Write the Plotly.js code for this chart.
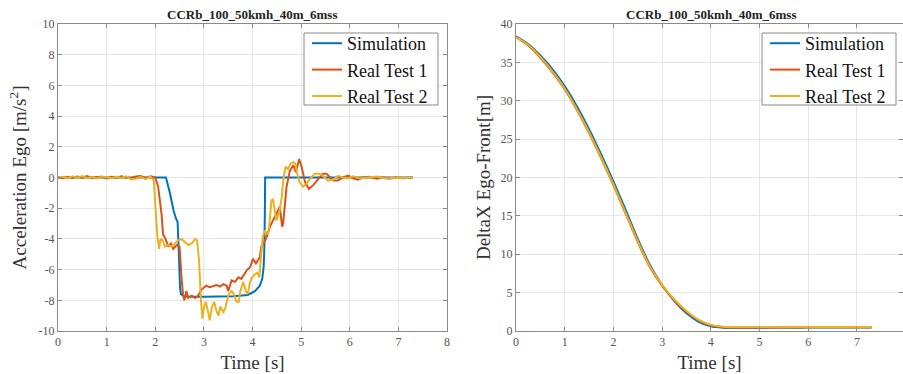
<!DOCTYPE html>
<html>
<head>
<meta charset="utf-8">
<script src="https://cdn.plot.ly/plotly-3.0.1.min.js"></script>
<style>html,body{margin:0;padding:0;background:#fff;}#chart{width:903px;height:374px;}</style>
</head>
<body>
<div id="chart"></div>
<script>
// ---------- data ----------
const chartTitle = "CCRb_100_50kmh_40m_6mss";
const seriesNames = ["Simulation", "Real Test 1", "Real Test 2"];

// Left: acceleration of ego vehicle [m/s^2]
const simAccT = [0, 2.22, 2.3, 2.38, 2.43, 2.46, 2.48, 2.51, 2.53, 2.6, 3.0, 3.6, 3.9, 4.05, 4.15, 4.2, 4.23, 4.245, 4.255, 4.26, 5.0, 7.3];
const simAccV = [0, 0, -1.0, -2.2, -2.7, -2.9, -4.5, -7.2, -7.6, -7.75, -7.77, -7.74, -7.65, -7.4, -7.05, -6.6, -5.8, -4.5, -2.0, 0, 0, 0];

const test1AccT = [0, 0.1, 0.2, 0.3, 0.4, 0.5, 0.6, 0.7, 0.8, 0.9, 1.0, 1.1, 1.2, 1.3, 1.4, 1.5, 1.6, 1.7, 1.8, 1.9,
  2.0, 2.06, 2.13, 2.16, 2.21, 2.27, 2.32, 2.37, 2.44, 2.5, 2.54, 2.57, 2.6, 2.64, 2.68, 2.75, 2.82, 2.88, 2.95, 3.05,
  3.12, 3.19, 3.26, 3.33, 3.4, 3.47, 3.5, 3.57, 3.64, 3.71, 3.77, 3.83, 3.88, 3.95, 4.01, 4.07, 4.12, 4.15, 4.18, 4.22,
  4.29, 4.36, 4.42, 4.49, 4.56, 4.61, 4.63, 4.7, 4.77, 4.84, 4.89, 4.96, 5.01, 5.08, 5.16, 5.25, 5.35, 5.45, 5.52, 5.59,
  5.66, 5.76, 5.86, 5.97, 6.07, 6.17, 6.27, 6.41, 6.55, 6.68, 6.82, 6.96, 7.1, 7.3];
const test1AccV = [0.02, -0.05, 0.05, -0.03, 0.06, -0.02, 0.1, -0.04, 0.03, 0.05, -0.06, 0.04, -0.02, 0.08, 0.0, -0.05, 0.06, 0.1, -0.03, 0.08,
  0.0, -0.6, -2.4, -3.7, -4.0, -4.5, -4.3, -4.65, -4.4, -4.5, -6.5, -7.6, -8.0, -7.4, -7.85, -7.7, -7.85, -7.7, -7.3, -7.05,
  -7.15, -7.05, -7.0, -7.1, -6.95, -7.05, -7.4, -6.7, -6.8, -6.5, -6.6, -6.3, -6.05, -5.85, -5.3, -5.6, -5.3, -5.2, -4.5, -4.35,
  -3.9, -3.2, -2.8, -2.4, -1.9, -3.2, -3.0, -0.6, 0.45, 0.8, 0.35, 1.2, 0.7, -0.3, -0.75, -0.5, -0.1, 0.25, 0.25, 0.0,
  -0.2, -0.2, 0.0, 0.12, -0.05, -0.15, 0.0, 0.05, -0.08, 0.02, -0.08, 0.02, -0.05, 0.0];

const test2AccT = [0, 0.1, 0.2, 0.3, 0.4, 0.5, 0.6, 0.7, 0.8, 0.9, 1.0, 1.1, 1.2, 1.3, 1.4, 1.5, 1.6, 1.7, 1.8, 1.9,
  1.97, 2.01, 2.04, 2.08, 2.11, 2.15, 2.2, 2.27, 2.34, 2.4, 2.47, 2.54, 2.61, 2.68, 2.75, 2.82, 2.86, 2.9, 2.94, 2.97,
  3.0, 3.04, 3.09, 3.12, 3.16, 3.21, 3.26, 3.3, 3.34, 3.4, 3.45, 3.51, 3.57, 3.62, 3.67, 3.72, 3.75, 3.81, 3.86, 3.9,
  3.95, 3.99, 4.05, 4.1, 4.14, 4.16, 4.21, 4.25, 4.31, 4.34, 4.39, 4.42, 4.46, 4.49, 4.55, 4.6, 4.64, 4.68, 4.73, 4.78,
  4.84, 4.88, 4.92, 4.97, 5.04, 5.11, 5.18, 5.28, 5.38, 5.47, 5.55, 5.66, 5.76, 5.86, 5.97, 6.07, 6.21, 6.34, 6.55, 6.75,
  6.96, 7.17, 7.3];
const test2AccV = [0.0, 0.05, -0.04, 0.08, -0.02, 0.1, -0.05, 0.03, -0.06, 0.07, 0.02, -0.04, 0.05, -0.03, 0.08, -0.12, -0.08, 0.04, -0.1, 0.06,
  -0.2, -1.9, -3.7, -4.65, -4.0, -4.1, -4.5, -4.4, -4.5, -4.3, -4.1, -4.0, -4.2, -4.4, -4.3, -4.0, -4.1, -5.4, -8.0, -9.2,
  -8.5, -8.1, -8.8, -9.3, -8.5, -8.1, -8.7, -9.0, -8.4, -8.8, -8.4, -7.6, -7.4, -7.6, -8.1, -8.1, -7.4, -6.8, -7.4, -7.6,
  -6.8, -6.5, -6.3, -6.2, -6.5, -5.6, -3.9, -3.45, -3.7, -3.3, -1.5, -1.4, -2.4, -2.8, -2.3, -1.3, 0.0, 0.7, 0.55, 0.9,
  1.0, 0.9, 0.25, -0.3, -0.6, -0.4, -0.1, 0.25, 0.25, 0.05, -0.2, -0.15, 0.1, 0.0, -0.05, 0.08, -0.06, 0.0, 0.06, -0.06,
  0.0, -0.04, 0.0];

// Right: distance ego to front vehicle [m]
const distT = [0, 0.25, 0.5, 0.75, 1.0, 1.25, 1.5, 1.75, 2.0, 2.25, 2.5, 2.75, 3.0, 3.25, 3.5, 3.75, 4.0, 4.25, 4.5, 5.0, 5.5, 6.0, 6.5, 7.0, 7.3];
const simDist   = [38.4, 37.4, 35.9, 34.1, 31.9, 29.3, 26.3, 23.0, 19.5, 15.8, 12.0, 8.6, 6.0, 3.9, 2.3, 1.2, 0.6, 0.42, 0.38, 0.4, 0.42, 0.44, 0.45, 0.46, 0.46];
const test1Dist = [38.3, 37.2, 35.6, 33.7, 31.5, 28.8, 25.8, 22.5, 19.0, 15.3, 11.6, 8.3, 5.9, 4.0, 2.5, 1.4, 0.75, 0.52, 0.45, 0.46, 0.48, 0.5, 0.5, 0.5, 0.5];
const test2Dist = [38.3, 37.3, 35.7, 33.8, 31.6, 28.9, 25.9, 22.6, 19.1, 15.4, 11.7, 8.4, 6.0, 4.1, 2.6, 1.45, 0.8, 0.55, 0.48, 0.48, 0.5, 0.52, 0.52, 0.52, 0.52];

const xTickVals = [0, 1, 2, 3, 4, 5, 6, 7, 8];
const xTickText = ["0", "1", "2", "3", "4", "5", "6", "7", "8"];
const accTickVals = [-10, -8, -6, -4, -2, 0, 2, 4, 6, 8, 10];
const accTickText = ["-10", "-8", "-6", "-4", "-2", "0", "2", "4", "6", "8", "10"];
const distTickVals = [0, 5, 10, 15, 20, 25, 30, 35, 40];
const distTickText = ["0", "5", "10", "15", "20", "25", "30", "35", "40"];

// ---------- style ----------
const colors = ["#0072BD", "#D95319", "#EDB120"];
const FONT = "Liberation Serif, Times New Roman, serif";
const W = 903, H = 374;

function line(x, y, i, xa, ya, leg, shape) {
  return {x: x, y: y, type: "scatter", mode: "lines", name: seriesNames[i],
    xaxis: xa, yaxis: ya, legend: leg, showlegend: true,
    line: {color: colors[i], width: 2, shape: shape || "linear", smoothing: 0.6}, hoverinfo: "skip"};
}

const traces = [
  line(simAccT, simAccV, 0, "x", "y", "legend"),
  line(test1AccT, test1AccV, 1, "x", "y", "legend"),
  line(test2AccT, test2AccV, 2, "x", "y", "legend"),
  line(distT, simDist, 0, "x2", "y2", "legend2", "spline"),
  line(distT, test1Dist, 1, "x2", "y2", "legend2", "spline"),
  line(distT, test2Dist, 2, "x2", "y2", "legend2", "spline")
];

function axisBase() {
  return {showline: true, mirror: "ticks", linecolor: "#8a8a8a", linewidth: 1,
    ticks: "inside", ticklen: 4, tickcolor: "#8a8a8a", tickwidth: 1,
    showgrid: true, gridcolor: "#e6e6e6", gridwidth: 1, zeroline: false,
    tickfont: {family: FONT, size: 12, color: "#555"}, automargin: false, fixedrange: true};
}

const yDom = [43 / H, 350 / H];
const xaxis = Object.assign(axisBase(), {domain: [58 / W, 447 / W], range: [0, 8], anchor: "y",
  tickmode: "array", tickvals: xTickVals, ticktext: xTickText,
  title: {text: "Time [s]", font: {family: FONT, size: 19, color: "#333"}, standoff: 7}});
const yaxis = Object.assign(axisBase(), {domain: yDom, range: [-10, 10], anchor: "x",
  tickmode: "array", tickvals: accTickVals, ticktext: accTickText,
  title: {text: "Acceleration Ego [m/s<sup>2</sup>]", font: {family: FONT, size: 19, color: "#333"}, standoff: 6}});
const xaxis2 = Object.assign(axisBase(), {domain: [516 / W, 1], range: [0, 7.945], anchor: "y2",
  tickmode: "array", tickvals: xTickVals, ticktext: xTickText,
  title: {text: "Time [s]", font: {family: FONT, size: 19, color: "#333"}, standoff: 7}});
const yaxis2 = Object.assign(axisBase(), {domain: yDom, range: [0, 40], anchor: "x2",
  tickmode: "array", tickvals: distTickVals, ticktext: distTickText,
  title: {text: "DeltaX Ego-Front[m]", font: {family: FONT, size: 19, color: "#333"}, standoff: 4}});

// legend entries positioned freely; the box is drawn as a shape
function legendAt(xl) {
  return {x: xl / W, xanchor: "left", y: (H - 25) / H, yanchor: "top",
    bgcolor: "rgba(0,0,0,0)", borderwidth: 0,
    font: {family: FONT, size: 18, color: "#111"}, tracegroupgap: 0, itemwidth: 30};
}
function legendFrame(x0, x1) {
  return {type: "rect", xref: "paper", yref: "paper", x0: x0 / W, x1: x1 / W,
    y0: (H - 105) / H, y1: (H - 33) / H, fillcolor: "#fff", line: {color: "#8a8a8a", width: 1}, layer: "above"};
}

const layout = {
  width: W, height: H, margin: {l: 0, r: 0, t: 0, b: 0},
  paper_bgcolor: "#fff", plot_bgcolor: "#fff",
  font: {family: FONT},
  xaxis: xaxis, yaxis: yaxis, xaxis2: xaxis2, yaxis2: yaxis2,
  legend: legendAt(307), legend2: legendAt(765),
  shapes: [legendFrame(304, 438), legendFrame(762, 896)],
  annotations: [
    {text: "<b>" + chartTitle + "</b>", xref: "paper", yref: "paper", x: 252.5 / W, y: (H - 14) / H,
     xanchor: "center", yanchor: "middle", showarrow: false, font: {family: FONT, size: 13, color: "#222"}},
    {text: "<b>" + chartTitle + "</b>", xref: "paper", yref: "paper", x: 710.5 / W, y: (H - 14) / H,
     xanchor: "center", yanchor: "middle", showarrow: false, font: {family: FONT, size: 13, color: "#222"}}
  ]
};

Plotly.newPlot("chart", traces, layout, {displayModeBar: false, staticPlot: true});
</script>
</body>
</html>
